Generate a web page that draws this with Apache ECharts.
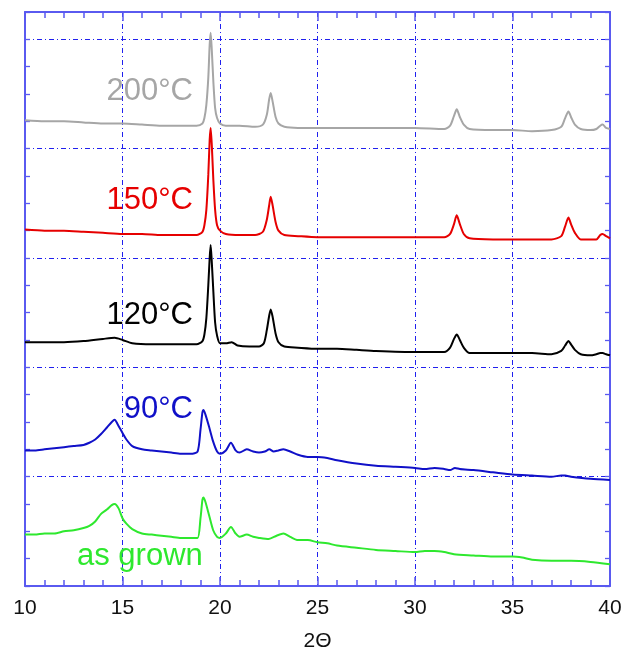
<!DOCTYPE html>
<html>
<head>
<meta charset="utf-8">
<script src="https://cdn.jsdelivr.net/npm/echarts@6/dist/echarts.min.js"></script>
<style>
  html, body { margin: 0; padding: 0; background: #fff; }
  #chart { width: 626px; height: 652px; }
</style>
</head>
<body>
<div id="chart"></div>
<script>
// XRD patterns: [2-theta (deg), intensity (a.u., stacked offsets)]
const gray200 = [[10,426],[11,425],[12,425],[13,424],[14,423],[15,423],[16,422],[17,421],[18,421],[18.8,421],[19.1,423],[19.2,428],[19.3,440],[19.4,465],[19.47,495],[19.52,506],[19.58,490],[19.66,461],[19.75,437],[19.85,428],[20,423],[20.3,421],[21,421],[21.8,420],[22.2,422],[22.4,431],[22.52,445],[22.6,451],[22.7,443],[22.85,429],[23,423],[23.3,420],[24,419],[25,419],[26,419],[28,419],[30,419],[31.5,418],[31.8,421],[32,430],[32.14,436],[32.3,429],[32.5,422],[32.8,418],[34,417],[35,417],[36,416],[37,417],[37.5,420],[37.7,428],[37.87,434],[38,429],[38.2,422],[38.5,418],[39,417],[39.3,418],[39.5,421],[39.62,422],[39.8,419],[40,418]];
const red150 = [[10,326],[11,325],[12,325],[13,324],[14,323],[15,322],[16,322],[17,321],[18,321],[18.8,321],[19.1,324],[19.2,330],[19.3,344],[19.4,376],[19.47,408],[19.52,419],[19.58,403],[19.66,371],[19.75,344],[19.85,330],[20,325],[20.3,322],[21,321],[21.8,321],[22.2,324],[22.4,335],[22.52,348],[22.6,356],[22.7,348],[22.85,333],[23,325],[23.3,321],[24,320],[25,319],[26,319],[28,319],[30,319],[31.5,319],[31.8,322],[32,331],[32.14,339],[32.3,331],[32.5,322],[32.8,318],[34,317],[35,317],[36,317],[37,317],[37.5,320],[37.7,329],[37.87,337],[38,331],[38.2,323],[38.5,317],[39,317],[39.3,317],[39.5,321],[39.62,322],[39.8,320],[40,318]];
const black120 = [[10,223],[11,223],[12,223],[13,224],[14,226],[14.6,227],[15,225],[15.5,222],[16.5,221],[18,221],[18.8,221],[19.1,224],[19.2,230],[19.3,245],[19.4,275],[19.47,300],[19.52,312],[19.58,296],[19.66,269],[19.75,241],[19.85,229],[20,222],[20.3,222],[20.6,223],[20.9,220],[21.5,219],[22,219],[22.25,222],[22.4,234],[22.52,247],[22.6,253],[22.7,246],[22.85,231],[23,223],[23.3,219],[24,218],[25,217],[26,217],[27,216],[28,215],[30,214],[31.5,214],[31.8,218],[32,226],[32.14,230],[32.3,225],[32.5,218],[32.8,213],[34,213],[35,213],[36,213],[37,212],[37.5,215],[37.7,220],[37.87,224],[38,221],[38.2,216],[38.5,212],[39,211],[39.3,212],[39.5,213],[39.62,213],[39.8,212],[40,211]];
const blue90 = [[10,124],[10.5,124],[11,125],[11.5,126],[12,127],[12.5,128],[13,129],[13.3,131],[13.6,134],[13.9,139],[14.2,145],[14.45,150],[14.6,152],[14.75,148],[15,140],[15.2,134],[15.5,128],[16,125],[16.5,124],[17,123],[17.5,122],[18,121],[18.5,121],[18.85,123],[19,143],[19.1,159],[19.15,161],[19.25,157],[19.45,145],[19.65,132],[19.85,123],[20,121],[20.3,124],[20.56,131],[20.8,124],[21,122],[21.37,125],[21.7,123],[22,122],[22.3,123],[22.53,125],[22.75,123],[23,124],[23.25,125],[23.6,123],[24,120],[24.5,118],[25,118],[25.5,117],[26,115],[27,112],[28,110],[29,109],[30,108],[30.5,107],[31,108],[31.5,107],[31.8,106],[32.05,108],[32.3,107],[33,106],[34,104],[35,102],[36,101],[37,100],[37.5,101],[37.7,101],[38,100],[39,98],[40,97]];
const greenAsGrown = [[10,47],[10.5,47],[11,48],[11.5,48],[12,50],[12.5,51],[13,53],[13.3,55],[13.6,59],[13.9,66],[14.2,70],[14.45,74],[14.6,75],[14.8,71],[15,62],[15.2,57],[15.5,52],[16,48],[16.5,47],[17,46],[17.5,45],[18,44],[18.5,44],[18.85,44],[19,62],[19.1,79],[19.15,81],[19.25,77],[19.45,64],[19.65,51],[19.85,45],[20,44],[20.3,48],[20.56,54],[20.8,48],[21,45],[21.37,47],[21.7,45],[22,44],[22.5,43],[22.9,46],[23.25,48],[23.6,45],[24,42],[24.5,42],[25,40],[25.5,39],[26,37],[27,35],[28,33],[29,32],[30,31],[30.5,32],[31,32],[31.5,31],[32,29],[33,28],[34,27],[35,27],[35.5,26],[36,24],[37,23],[38,23],[39,22],[40,20]];

const seriesNames = ['200°C', '150°C', '120°C', '90°C', 'as grown'];
const seriesColors = ['#a6a6a6', '#e60000', '#000000', '#1010c8', '#2ee82e'];
const xTickLabels = [10, 15, 20, 25, 30, 35, 40];

const FONT = '"Liberation Sans", Arial, sans-serif';
const AXIS_BLUE = '#5a5af0';
const GRID_BLUE = '#2020ee';
const DASH_DOT = [5, 3, 1, 3];
const Y_MIN = 0, Y_MAX = 525;

const chart = echarts.init(document.getElementById('chart'), null, { renderer: 'canvas' });

// frame axes: bottom one carries labels, grid lines and the axis name
const frameX = (position, withLabels) => ({
  type: 'value', position, min: 10, max: 40, interval: 5,
  axisLine: { show: true, onZero: false, lineStyle: { color: AXIS_BLUE, width: 2 } },
  axisTick: { show: true, inside: true, length: 9, lineStyle: { color: AXIS_BLUE, width: 1.5 } },
  minorTick: { show: true, splitNumber: 5, length: 6, lineStyle: { color: AXIS_BLUE, width: 1.5 } },
  splitLine: { show: withLabels, lineStyle: { color: GRID_BLUE, width: 1, type: DASH_DOT } },
  axisLabel: withLabels ? {
    show: true, margin: 12, fontSize: 21, color: '#111', fontFamily: FONT,
    formatter: v => (xTickLabels.indexOf(v) >= 0 ? String(v) : '')
  } : { show: false },
  name: withLabels ? '2Θ' : '',
  nameLocation: 'middle', nameGap: 45,
  nameTextStyle: { fontSize: 21, color: '#111', fontFamily: FONT }
});

const frameY = (position) => ({
  type: 'value', position, min: Y_MIN, max: Y_MAX, interval: 25,
  axisLine: { show: true, onZero: false, lineStyle: { color: AXIS_BLUE, width: 2 } },
  axisTick: { show: true, inside: true, length: 5, lineStyle: { color: AXIS_BLUE, width: 1.3 } },
  splitLine: { show: false },
  axisLabel: { show: false }
});

const makeSeries = (name, data, color) => ({
  name, type: 'line', data, xAxisIndex: 0, yAxisIndex: 0,
  showSymbol: false, symbol: 'none', smooth: 0.25, clip: true,
  lineStyle: { color, width: 2 }, emphasis: { disabled: true }
});

const labelText = (text, color, x, y, align) => ({
  type: 'text', x, y, silent: true, z: 10,
  style: { text, fill: color, font: '31px ' + FONT, align, verticalAlign: 'middle' }
});

chart.setOption({
  animation: false,
  backgroundColor: '#ffffff',
  grid: { left: 25, right: 16, top: 12, bottom: 66, containLabel: false, outerBoundsMode: 'none' },
  xAxis: [frameX('bottom', true), frameX('top', false)],
  yAxis: [
    frameY('left'),
    frameY('right'),
    {
      // horizontal reference lines every 100 a.u.
      type: 'value', position: 'left', min: Y_MIN, max: Y_MAX, interval: 100,
      axisLine: { show: false }, axisTick: { show: false }, axisLabel: { show: false },
      splitLine: { show: true, lineStyle: { color: GRID_BLUE, width: 1, type: DASH_DOT } }
    }
  ],
  series: [
    makeSeries(seriesNames[0], gray200, seriesColors[0]),
    makeSeries(seriesNames[1], red150, seriesColors[1]),
    makeSeries(seriesNames[2], black120, seriesColors[2]),
    makeSeries(seriesNames[3], blue90, seriesColors[3]),
    makeSeries(seriesNames[4], greenAsGrown, seriesColors[4])
  ],
  graphic: [
    labelText(seriesNames[0], seriesColors[0], 193, 91, 'right'),
    labelText(seriesNames[1], seriesColors[1], 193, 200, 'right'),
    labelText(seriesNames[2], seriesColors[2], 193, 315, 'right'),
    labelText(seriesNames[3], seriesColors[3], 193, 409, 'right'),
    labelText(seriesNames[4], seriesColors[4], 77, 556, 'left')
  ]
});
</script>
</body>
</html>
